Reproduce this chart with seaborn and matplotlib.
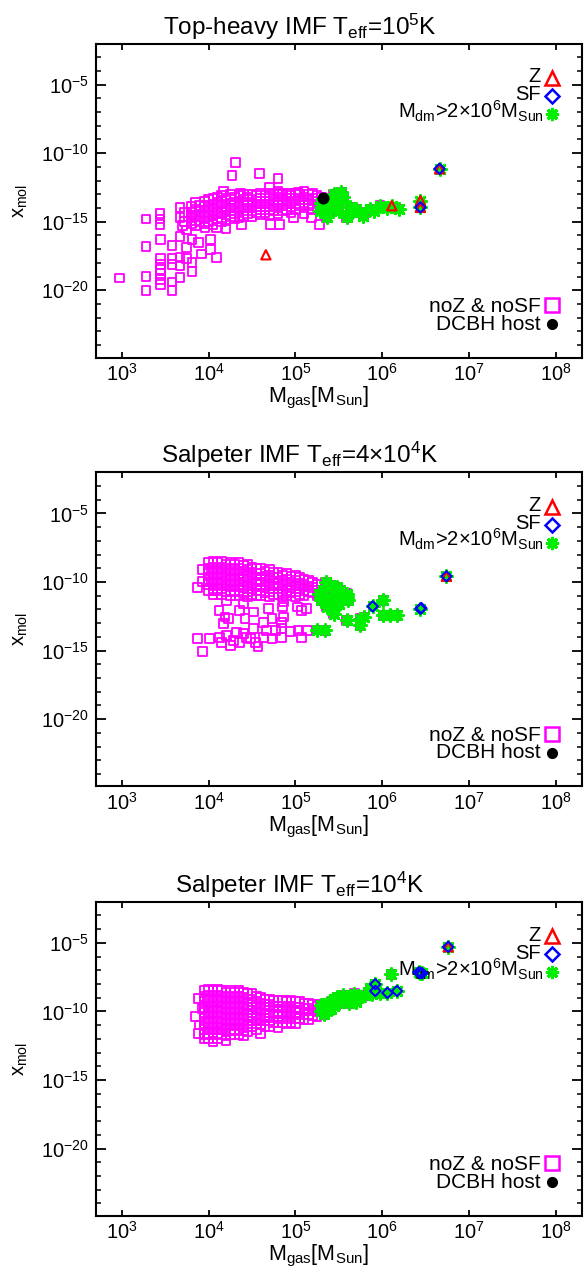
import numpy as np
import pandas as pd
import matplotlib
matplotlib.use("Agg")
import matplotlib.pyplot as plt
import seaborn as sns
from matplotlib.ticker import FixedLocator, FixedFormatter, NullFormatter

sns.set_theme(style="white")
plt.rcParams['font.family'] = ['Liberation Sans', 'DejaVu Sans']
plt.rcParams['mathtext.fontset'] = 'custom'
plt.rcParams['mathtext.rm'] = 'Liberation Sans'
plt.rcParams['mathtext.it'] = 'Liberation Sans:italic'
plt.rcParams['mathtext.default'] = 'regular'

# ---------------- data (log10 M_gas [M_sun], log10 x_mol) ----------------
titles = ["Top-heavy IMF T$_{eff}$=10$^{5}$K",
          "Salpeter IMF T$_{eff}$=4\u00d710$^{4}$K",
          "Salpeter IMF T$_{eff}$=10$^{4}$K"]

x_ticks = [1e3, 1e4, 1e5, 1e6, 1e7, 1e8]
x_ticklabels = ["10$^{3}$", "10$^{4}$", "10$^{5}$", "10$^{6}$", "10$^{7}$", "10$^{8}$"]
y_ticks = [1e-20, 1e-15, 1e-10, 1e-5]
y_ticklabels = ["10$^{-20}$", "10$^{-15}$", "10$^{-10}$", "10$^{-5}$"]

# ---- panel 1 : Top-heavy IMF, Teff = 1e5 K ----
p1_noz_sparse = [(2.97, -19.1), (3.28, -14.8), (3.28, -16.8), (3.28, -19.0), (3.28, -20.0),
                 (3.44, -14.4), (3.44, -14.8), (3.44, -15.2), (3.45, -16.3), (3.45, -17.7),
                 (3.45, -18.1), (3.45, -18.5), (3.45, -18.8), (3.45, -19.2), (3.45, -19.55),
                 (3.58, -16.75), (3.58, -17.7), (3.58, -18.1), (3.58, -19.4), (3.58, -20.0),
                 (3.67, -13.95), (3.67, -14.7), (3.67, -16.1), (3.67, -17.6), (3.67, -18.2),
                 (3.67, -19.05), (3.75, -16.9), (3.75, -17.7), (3.81, -16.3), (3.81, -18.0),
                 (3.81, -18.6), (3.88, -16.5), (3.92, -17.35), (4.02, -16.3), (4.02, -17.0),
                 (4.09, -17.6), (3.96, -15.4), (3.72, -14.3), (3.72, -15.0), (3.75, -15.6),
                 (3.70, -15.3), (4.31, -10.7), (4.27, -11.6), (4.59, -11.5), (4.80, -11.85),
                 (4.70, -12.5), (4.17, -12.8), (4.37, -12.95), (4.82, -12.95), (4.94, -12.95),
                 (5.03, -12.85), (5.28, -15.2), (4.20, -15.5), (4.38, -15.2), (4.71, -15.2),
                 (4.82, -15.2), (4.98, -14.7), (5.19, -14.7), (4.09, -15.4)]
p1_noz_cols = [(3.80, [-13.9, -14.3, -14.7, -15.1]),
               (3.85, [-13.6, -14.1, -14.5, -14.9, -15.3]),
               (3.90, [-13.8, -14.2, -14.6, -15.0]),
               (3.95, [-13.5, -13.9, -14.3, -14.7, -15.1]),
               (4.00, [-13.4, -13.8, -14.2, -14.6, -15.0]),
               (4.05, [-13.3, -13.7, -14.1, -14.5, -14.9, -15.2]),
               (4.10, [-13.2, -13.6, -14.0, -14.4, -14.8]),
               (4.15, [-13.1, -13.5, -13.9, -14.3, -14.7, -15.0]),
               (4.20, [-13.3, -13.7, -14.1, -14.5, -14.9]),
               (4.25, [-13.0, -13.4, -13.8, -14.2, -14.6]),
               (4.30, [-13.2, -13.6, -14.0, -14.4, -14.8]),
               (4.35, [-13.1, -13.5, -13.9, -14.3, -14.7]),
               (4.40, [-13.0, -13.4, -13.8, -14.2, -14.6]),
               (4.45, [-13.2, -13.6, -14.0, -14.4]),
               (4.50, [-13.0, -13.4, -13.8, -14.2, -14.6]),
               (4.55, [-13.1, -13.5, -13.9, -14.3]),
               (4.60, [-12.9, -13.3, -13.7, -14.1, -14.5]),
               (4.65, [-13.1, -13.5, -13.9, -14.3]),
               (4.70, [-12.9, -13.3, -13.7, -14.1, -14.5]),
               (4.75, [-13.0, -13.4, -13.8, -14.2]),
               (4.80, [-12.8, -13.2, -13.6, -14.0, -14.4]),
               (4.85, [-13.0, -13.4, -13.8, -14.2]),
               (4.90, [-12.9, -13.3, -13.7, -14.1]),
               (4.95, [-13.1, -13.5, -13.9, -14.3]),
               (5.00, [-12.9, -13.3, -13.7, -14.1]),
               (5.05, [-13.0, -13.4, -13.8]),
               (5.10, [-12.8, -13.2, -13.6, -14.0, -14.4]),
               (5.15, [-13.0, -13.4, -13.8]),
               (5.20, [-12.9, -13.3, -13.7, -14.1]),
               (5.25, [-13.1, -13.5, -13.9]),
               (5.30, [-13.2, -13.6, -14.0])]
p1_green = [(5.285, -14.19), (5.32, -13.95), (5.36, -14.68), (5.40, -13.46), (5.44, -12.97),
            (5.48, -13.70), (5.53, -12.85), (5.55, -13.22), (5.59, -14.68), (5.63, -13.95),
            (5.65, -14.32), (5.745, -14.32), (5.78, -14.56), (5.86, -14.07), (5.975, -13.83),
            (6.11, -13.83), (6.19, -14.07), (5.30, -13.6), (5.38, -14.3), (5.50, -14.2),
            (5.70, -14.1), (5.90, -14.2), (6.05, -14.0), (6.44, -13.46), (6.44, -13.95),
            (6.66, -11.14)]
p1_z = [(4.66, -17.41), (6.11, -13.83), (6.44, -13.46), (6.44, -13.95), (6.66, -11.14)]
p1_sf = [(6.44, -13.95), (6.66, -11.14)]
p1_dcbh = [(5.32, -13.26)]

# ---- panel 2 : Salpeter IMF, Teff = 4e4 K ----
p2_noz_sparse = [(3.93, -9.1), (3.93, -9.95), (3.875, -10.4), (4.05, -10.6),
                 (4.12, -12.07), (4.19, -12.56), (4.17, -13.04), (4.23, -12.68), (4.42, -12.68),
                 (4.63, -12.93), (4.73, -12.68), (4.86, -12.56), (4.84, -12.93), (5.07, -12.07),
                 (5.13, -11.95), (4.36, -12.07), (4.52, -12.19), (4.69, -11.95), (4.85, -11.83),
                 (5.02, -11.83), (4.21, -11.34), (4.40, -11.58), (4.86, -11.46),
                 (3.875, -14.14), (3.93, -15.07), (4.01, -14.14), (4.13, -14.02), (4.15, -14.39),
                 (4.25, -14.63), (4.32, -13.66), (4.36, -14.39), (4.44, -14.02), (4.52, -13.41),
                 (4.54, -14.39), (4.57, -14.70), (4.63, -14.02), (4.73, -14.14), (4.77, -13.53),
                 (4.84, -13.41), (4.84, -14.02), (4.94, -13.61), (5.03, -13.53), (5.07, -14.07),
                 (5.14, -13.53), (4.29, -14.27), (4.48, -14.14), (4.21, -13.9), (4.40, -13.78),
                 (4.67, -13.53)]
p2_noz_cols = [(4.00, [-8.6, -9.0, -9.4, -9.8, -10.2, -10.6]),
               (4.05, [-8.5, -8.9, -9.3, -9.7, -10.1, -10.5, -10.9]),
               (4.10, [-8.6, -9.0, -9.4, -9.8, -10.2, -10.6]),
               (4.15, [-8.5, -8.9, -9.3, -9.7, -10.1, -10.5, -10.9]),
               (4.20, [-8.7, -9.1, -9.5, -9.9, -10.3, -10.7]),
               (4.25, [-8.6, -9.0, -9.4, -9.8, -10.2, -10.6, -11.0]),
               (4.30, [-8.7, -9.1, -9.5, -9.9, -10.3, -10.7]),
               (4.35, [-8.6, -9.0, -9.4, -9.8, -10.2, -10.6, -11.0]),
               (4.40, [-8.8, -9.2, -9.6, -10.0, -10.4, -10.8]),
               (4.45, [-8.7, -9.1, -9.5, -9.9, -10.3, -10.7, -11.1]),
               (4.50, [-8.9, -9.3, -9.7, -10.1, -10.5, -10.9]),
               (4.55, [-9.0, -9.4, -9.8, -10.2, -10.6, -11.0]),
               (4.60, [-9.0, -9.4, -9.8, -10.2, -10.6, -11.0]),
               (4.65, [-9.2, -9.6, -10.0, -10.4, -10.8]),
               (4.70, [-9.1, -9.5, -9.9, -10.3, -10.7, -11.1]),
               (4.75, [-9.3, -9.7, -10.1, -10.5, -10.9]),
               (4.80, [-9.3, -9.7, -10.1, -10.5, -10.9]),
               (4.85, [-9.5, -9.9, -10.3, -10.7, -11.1]),
               (4.90, [-9.4, -9.8, -10.2, -10.6, -11.0]),
               (4.95, [-9.6, -10.0, -10.4, -10.8]),
               (5.00, [-9.5, -9.9, -10.3, -10.7, -11.1]),
               (5.05, [-9.7, -10.1, -10.5, -10.9]),
               (5.10, [-9.8, -10.2, -10.6, -11.0]),
               (5.15, [-9.9, -10.3, -10.7]),
               (5.20, [-10.0, -10.4, -10.8]),
               (5.25, [-10.2, -10.6, -11.0])]
p2_green = [(5.32, -10.6), (5.40, -10.24), (5.48, -10.37), (5.30, -11.34), (5.40, -11.34),
            (5.36, -11.83), (5.44, -12.31), (5.515, -10.61), (5.59, -10.85), (5.61, -11.34),
            (5.59, -11.1), (5.27, -10.9), (5.35, -10.0), (5.45, -11.0), (5.50, -11.6),
            (6.01, -11.34), (5.89, -11.78), (5.59, -12.80), (5.745, -12.68), (5.79, -12.56),
            (5.745, -13.17), (6.01, -12.44), (6.09, -12.44), (6.17, -12.44), (6.44, -11.95),
            (6.74, -9.58), (5.34, -13.53), (5.44, -12.0), (5.25, -13.5)]
p2_z = [(6.74, -9.58)]
p2_sf = [(6.74, -9.58), (6.44, -11.95), (6.45, -11.90), (5.89, -11.78)]
p2_dcbh = []

# ---- panel 3 : Salpeter IMF, Teff = 1e4 K ----
p3_noz_sparse = [(3.88, -9.06), (3.93, -9.8), (3.85, -10.4), (3.90, -11.0), (3.88, -11.6),
                 (3.95, -12.0), (4.05, -12.2), (4.20, -12.1), (4.40, -11.8), (4.60, -11.6)]
p3_noz_cols = [(3.95, [-8.5, -8.9, -9.3, -9.7, -10.1, -10.5, -10.9, -11.3, -11.7]),
               (4.00, [-8.4, -8.8, -9.2, -9.6, -10.0, -10.4, -10.8, -11.2, -11.6, -12.0]),
               (4.05, [-8.5, -8.9, -9.3, -9.7, -10.1, -10.5, -10.9, -11.3, -11.7]),
               (4.10, [-8.4, -8.8, -9.2, -9.6, -10.0, -10.4, -10.8, -11.2, -11.6, -12.0]),
               (4.15, [-8.5, -8.9, -9.3, -9.7, -10.1, -10.5, -10.9, -11.3, -11.7]),
               (4.20, [-8.6, -9.0, -9.4, -9.8, -10.2, -10.6, -11.0, -11.4, -11.8]),
               (4.25, [-8.5, -8.9, -9.3, -9.7, -10.1, -10.5, -10.9, -11.3, -11.7]),
               (4.30, [-8.6, -9.0, -9.4, -9.8, -10.2, -10.6, -11.0, -11.4]),
               (4.35, [-8.5, -8.9, -9.3, -9.7, -10.1, -10.5, -10.9, -11.3, -11.7]),
               (4.40, [-8.6, -9.0, -9.4, -9.8, -10.2, -10.6, -11.0, -11.4]),
               (4.45, [-8.7, -9.1, -9.5, -9.9, -10.3, -10.7, -11.1, -11.5]),
               (4.50, [-8.7, -9.1, -9.5, -9.9, -10.3, -10.7, -11.1]),
               (4.55, [-8.9, -9.3, -9.7, -10.1, -10.5, -10.9, -11.3]),
               (4.60, [-9.0, -9.4, -9.8, -10.2, -10.6, -11.0]),
               (4.65, [-9.1, -9.5, -9.9, -10.3, -10.7, -11.1]),
               (4.70, [-9.1, -9.5, -9.9, -10.3, -10.7, -11.1]),
               (4.75, [-9.2, -9.6, -10.0, -10.4, -10.8]),
               (4.80, [-9.2, -9.6, -10.0, -10.4, -10.8, -11.2]),
               (4.85, [-9.2, -9.6, -10.0, -10.4, -10.8]),
               (4.90, [-9.3, -9.7, -10.1, -10.5, -10.9]),
               (4.95, [-9.2, -9.6, -10.0, -10.4, -10.8]),
               (5.00, [-9.3, -9.7, -10.1, -10.5, -10.9]),
               (5.05, [-9.3, -9.7, -10.1, -10.5]),
               (5.10, [-9.4, -9.8, -10.2, -10.6]),
               (5.15, [-9.4, -9.8, -10.2, -10.6]),
               (5.20, [-9.5, -9.9, -10.3]),
               (5.25, [-9.6, -10.0, -10.4])]
p3_green = [(5.29, -9.5), (5.29, -10.0), (5.33, -9.7), (5.33, -10.2), (5.37, -9.4),
            (5.37, -9.9), (5.41, -9.3), (5.41, -9.8), (5.45, -9.1), (5.45, -9.6),
            (5.48, -8.95), (5.50, -9.4), (5.53, -9.06), (5.55, -8.8), (5.59, -9.1),
            (5.63, -8.95), (5.65, -9.0), (5.68, -8.7), (5.72, -8.9), (5.745, -8.95),
            (5.80, -8.82), (5.84, -8.6), (5.86, -8.31), (5.88, -8.7), (5.92, -8.02),
            (5.92, -8.51), (5.98, -8.68), (6.06, -8.65), (6.10, -7.29), (6.17, -8.51),
            (6.44, -7.19), (6.42, -7.15), (6.46, -7.22), (6.76, -5.29), (5.70, -9.3),
            (5.62, -9.4)]
p3_z = [(6.76, -5.29)]
p3_sf = [(6.76, -5.29), (6.44, -7.19), (6.42, -7.15), (6.46, -7.22), (5.92, -8.02),
         (5.92, -8.51), (6.06, -8.65), (6.17, -8.51)]
p3_dcbh = []

panels = [
    dict(title=titles[0], sparse=p1_noz_sparse, cols=p1_noz_cols, green=p1_green,
         z=p1_z, sf=p1_sf, dcbh=p1_dcbh),
    dict(title=titles[1], sparse=p2_noz_sparse, cols=p2_noz_cols, green=p2_green,
         z=p2_z, sf=p2_sf, dcbh=p2_dcbh),
    dict(title=titles[2], sparse=p3_noz_sparse, cols=p3_noz_cols, green=p3_green,
         z=p3_z, sf=p3_sf, dcbh=p3_dcbh),
]

MAG, GRN, RED, BLU = "#ff00ff", "#00ee00", "#ff0000", "#0000ff"
ASTER = (8, 2, 0)


def to_df(pairs):
    if len(pairs) == 0:
        return pd.DataFrame({"mgas": [], "xmol": []})
    a = np.array(pairs, dtype=float)
    return pd.DataFrame({"mgas": 10.0 ** a[:, 0], "xmol": 10.0 ** a[:, 1]})


# ---------------- figure ----------------
W, H = 588, 1276
fig = plt.figure(figsize=(W / 100, H / 100), dpi=100)
AX_L, AX_W, AX_H = 95.6, 486.4, 314.0
tops = [43.5, 472.3, 901.7]
TITLE_CX = 300.0
XLAB_CX = 318.0

for top, P in zip(tops, panels):
    ax = fig.add_axes([AX_L / W, 1 - (top + AX_H) / H, AX_W / W, AX_H / H])
    ax.set_xscale("log")
    ax.set_yscale("log")

    flagged = set(P["z"]) | set(P["sf"])
    noz = list(P["sparse"]) + [(m, v) for m, vs in P["cols"] for v in vs] + \
          [p for p in P["green"] if p not in flagged]

    sns.scatterplot(data=to_df(noz), x="mgas", y="xmol", ax=ax, marker="s", s=40,
                    facecolor="none", edgecolor=MAG, linewidth=1.3, zorder=2)
    sns.scatterplot(data=to_df(P["green"]), x="mgas", y="xmol", ax=ax, marker=ASTER,
                    s=70, color=GRN, linewidth=2.2, zorder=3)
    sns.scatterplot(data=to_df(P["z"]), x="mgas", y="xmol", ax=ax, marker="^", s=45,
                    facecolor="none", edgecolor=RED, linewidth=1.5, zorder=4)
    sns.scatterplot(data=to_df(P["sf"]), x="mgas", y="xmol", ax=ax, marker="D", s=28,
                    facecolor="none", edgecolor=BLU, linewidth=1.5, zorder=5)
    if len(P["dcbh"]):
        sns.scatterplot(data=to_df(P["dcbh"]), x="mgas", y="xmol", ax=ax, marker="o",
                        s=75, color="black", edgecolor="black", linewidth=0, zorder=6)

    ax.set_xlim(500, 2e8)
    ax.set_ylim(10 ** -24.9, 1e-2)

    ax.xaxis.set_major_locator(FixedLocator(x_ticks))
    ax.xaxis.set_major_formatter(FixedFormatter(x_ticklabels))
    ax.xaxis.set_minor_locator(FixedLocator([]))
    ax.yaxis.set_major_locator(FixedLocator(y_ticks))
    ax.yaxis.set_major_formatter(FixedFormatter(y_ticklabels))
    ax.yaxis.set_minor_locator(FixedLocator([10.0 ** -k for k in range(3, 25) if k % 5]))
    ax.yaxis.set_minor_formatter(NullFormatter())

    ax.tick_params(axis="x", which="major", direction="in", length=4.5, width=1.3,
                   top=True, bottom=True, labelsize=14.4, pad=4, colors="black")
    ax.tick_params(axis="y", which="major", direction="in", length=7.2, width=1.3,
                   left=True, right=True, labelsize=14.4, pad=5, colors="black")
    ax.tick_params(axis="y", which="minor", direction="in", length=3.6, width=1.3,
                   left=True, right=True)
    for sp in ax.spines.values():
        sp.set_linewidth(1.5)
        sp.set_color("black")
        sp.set_visible(True)

    ax.set_xlabel("M$_{gas}$[M$_{Sun}$]", fontsize=15.5, labelpad=2, color="black")
    ax.xaxis.set_label_coords((XLAB_CX - AX_L) / AX_W, -0.088)
    ax.set_ylabel("x$_{mol}$", fontsize=14.5, labelpad=8, color="black")

    # title (figure pixel coords)
    fig.text(TITLE_CX / W, 1 - (top - 9) / H, P["title"], ha="center",
             va="baseline", fontsize=17.5, color="black")

    # legend (axes fraction coords)
    def fy(off):
        return 1 - off / AX_H
    tx, mx = 0.9157, 0.938
    ax.text(tx, fy(39.0), "Z", transform=ax.transAxes, ha="right", va="baseline",
            fontsize=14.5, color="black")
    ax.text(tx, fy(57.0), "SF", transform=ax.transAxes, ha="right", va="baseline",
            fontsize=14.5, color="black")
    ax.text(tx + 0.006, fy(74.5), "M$_{dm}$>2\u00d710$^{6}$M$_{Sun}$", transform=ax.transAxes,
            ha="right", va="baseline", fontsize=14.5, color="black")
    ax.text(tx, fy(268.5), "noZ & noSF", transform=ax.transAxes, ha="right",
            va="baseline", fontsize=15, color="black")
    ax.text(tx, fy(286), "DCBH host", transform=ax.transAxes, ha="right",
            va="baseline", fontsize=15, color="black")
    ax.plot([mx], [fy(34.4)], marker="^", ms=10, mfc="none", mec=RED, mew=1.8,
            transform=ax.transAxes, clip_on=False, ls="none")
    ax.plot([mx], [fy(52.5)], marker="D", ms=7.5, mfc="none", mec=BLU, mew=1.8,
            transform=ax.transAxes, clip_on=False, ls="none")
    ax.plot([mx], [fy(70.5)], marker=ASTER, ms=9.5, color=GRN, mew=2.2,
            transform=ax.transAxes, clip_on=False, ls="none")
    ax.plot([mx], [fy(261.5)], marker="s", ms=9.5, mfc="none", mec=MAG, mew=1.8,
            transform=ax.transAxes, clip_on=False, ls="none")
    ax.plot([mx], [fy(280.5)], marker="o", ms=7, mfc="black", mec="black",
            transform=ax.transAxes, clip_on=False, ls="none")

fig.savefig("out.png", dpi=100, facecolor="white")
